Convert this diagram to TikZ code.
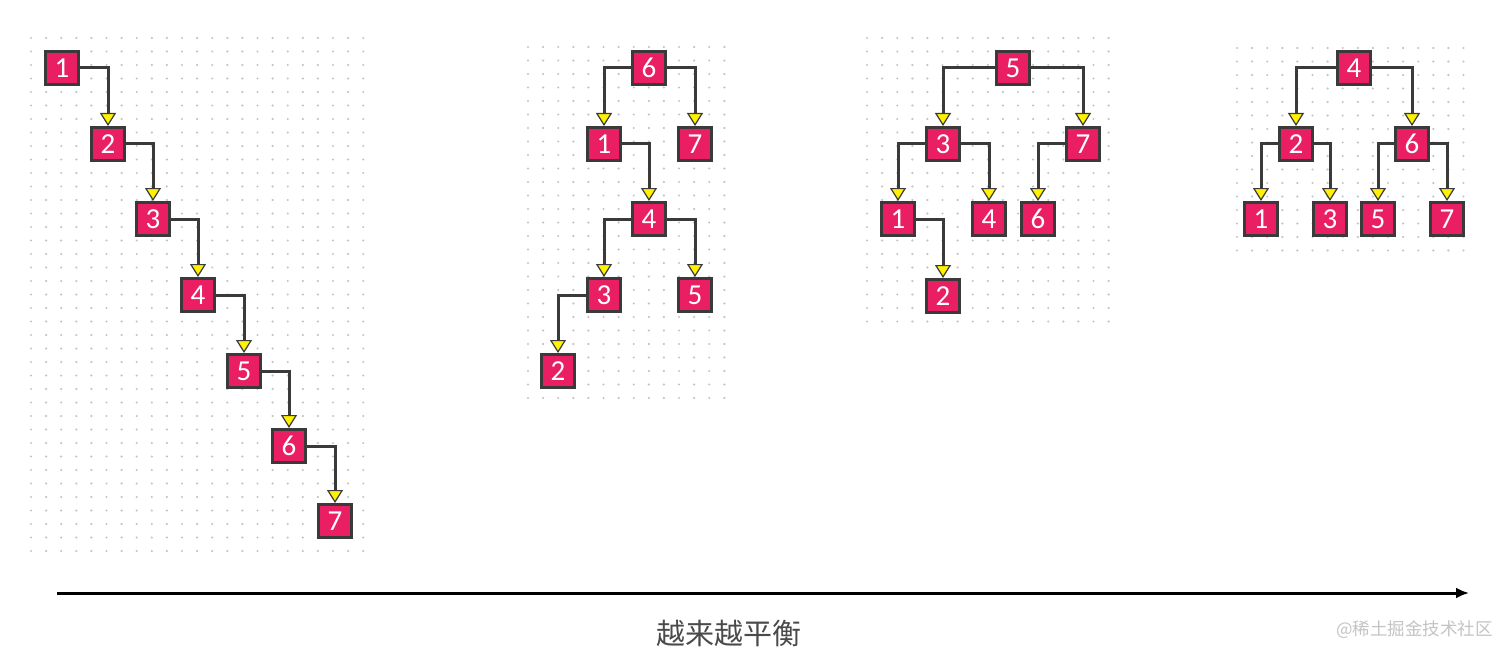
\documentclass[tikz,border=0pt]{standalone}
\usepackage{fontspec}
\newfontfamily\numfont{Carlito}
\newfontfamily\cjk{Noto Sans CJK SC}
\usetikzlibrary{arrows.meta}
\definecolor{nodec}{HTML}{E91E63}
\definecolor{edgec}{HTML}{3A3A3A}
\definecolor{dotc}{HTML}{C4C4C4}
\definecolor{capc}{HTML}{4A4A4A}
\definecolor{wmc}{HTML}{C4C4C4}
\tikzset{
  tnode/.style={draw=edgec, line width=3pt, fill=nodec, text=white, minimum size=33pt, inner sep=0pt, font=\numfont\fontsize{29}{29}\selectfont},
  tedge/.style={draw=edgec, line width=3pt, -{Triangle[width=16pt,length=13pt,fill=yellow,line width=1.2pt]}},
  dotdot/.style={fill=dotc}
}
\newcommand{\dotfield}[6]{% x0 y0 nx ny px py
  \foreach \i in {0,...,#3}{\foreach \j in {0,...,#4}{\fill[dotdot] ({#1+\i*#5},{#2+\j*#6}) circle (1.2pt);}}}
\begin{document}
\begin{tikzpicture}[x=1pt,y=-1pt]
\useasboundingbox[fill=white] (0,0) rectangle (1512,658);
% dot grids
\dotfield{31}{38}{22}{38}{15.1}{13.5}
\dotfield{528}{47}{13}{26}{15.1}{13.5}
\dotfield{867}{38}{16}{21}{15.1}{13.5}
\dotfield{1237}{48}{15}{15}{15.1}{13.5}
% tree 1
\node[tnode] (a1) at (62,68) {1};
\node[tnode] (a2) at (108,144) {2};
\node[tnode] (a3) at (153,219) {3};
\node[tnode] (a4) at (198,295) {4};
\node[tnode] (a5) at (244,371) {5};
\node[tnode] (a6) at (289,446) {6};
\node[tnode] (a7) at (335,521) {7};
\draw[tedge] (a1.east) -| (a2.north);
\draw[tedge] (a2.east) -| (a3.north);
\draw[tedge] (a3.east) -| (a4.north);
\draw[tedge] (a4.east) -| (a5.north);
\draw[tedge] (a5.east) -| (a6.north);
\draw[tedge] (a6.east) -| (a7.north);
% tree 2
\node[tnode] (b6) at (649,68) {6};
\node[tnode] (b1) at (604,144) {1};
\node[tnode] (b7) at (695,144) {7};
\node[tnode] (b4) at (649,219) {4};
\node[tnode] (b3) at (604,295) {3};
\node[tnode] (b5) at (695,295) {5};
\node[tnode] (b2) at (558,371) {2};
\draw[tedge] (b6.west) -| (b1.north);
\draw[tedge] (b6.east) -| (b7.north);
\draw[tedge] (b1.east) -| (b4.north);
\draw[tedge] (b4.west) -| (b3.north);
\draw[tedge] (b4.east) -| (b5.north);
\draw[tedge] (b3.west) -| (b2.north);
% tree 3
\node[tnode] (c5) at (1013,68) {5};
\node[tnode] (c3) at (943,144) {3};
\node[tnode] (c7) at (1083,144) {7};
\node[tnode] (c1) at (898,219) {1};
\node[tnode] (c4) at (989,219) {4};
\node[tnode] (c6) at (1038,219) {6};
\node[tnode] (c2) at (943,296) {2};
\draw[tedge] (c5.west) -| (c3.north);
\draw[tedge] (c5.east) -| (c7.north);
\draw[tedge] (c3.west) -| (c1.north);
\draw[tedge] (c3.east) -| (c4.north);
\draw[tedge] (c7.west) -| (c6.north);
\draw[tedge] (c1.east) -| (c2.north);
% tree 4
\node[tnode] (d4) at (1354,68) {4};
\node[tnode] (d2) at (1296,144) {2};
\node[tnode] (d6) at (1412,144) {6};
\node[tnode] (d1) at (1261,219) {1};
\node[tnode] (d3) at (1330,219) {3};
\node[tnode] (d5) at (1378,219) {5};
\node[tnode] (d7) at (1447,219) {7};
\draw[tedge] (d4.west) -| (d2.north);
\draw[tedge] (d4.east) -| (d6.north);
\draw[tedge] (d2.west) -| (d1.north);
\draw[tedge] (d2.east) -| (d3.north);
\draw[tedge] (d6.west) -| (d5.north);
\draw[tedge] (d6.east) -| (d7.north);
% axis
\coordinate (axs) at (57,593);
\coordinate (axe) at (1469,593);
\draw[line width=3pt, -{Latex[length=13pt,width=11pt]}] (axs) -- (axe);
\node[text=capc, font=\cjk\fontsize{29}{29}\selectfont, inner sep=0pt] (cap) at (729,633) {越来越平衡};
\node[text=wmc, font=\cjk\fontsize{17.5}{17.5}\selectfont, inner sep=0pt, anchor=east] (wm) at (1493,630) {@稀土掘金技术社区};
\end{tikzpicture}
\end{document}
